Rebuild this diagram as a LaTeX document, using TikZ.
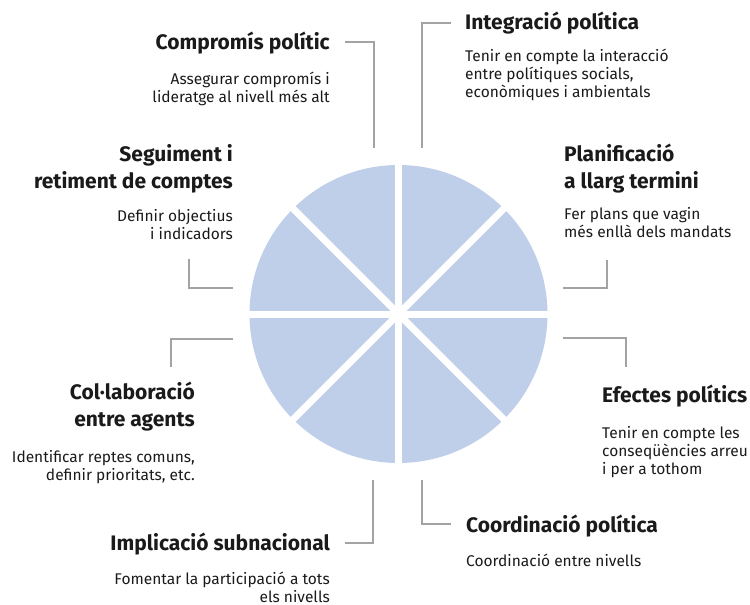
\documentclass[tikz,border=0pt]{standalone}
\usepackage{fontspec}
\setmainfont{Fira Sans}
\usetikzlibrary{calc}
\definecolor{piefill}{HTML}{BFCFEA}
\definecolor{connc}{HTML}{A3A3A3}
\definecolor{txtc}{HTML}{1A1A1A}
\tikzset{
  ttl/.style={font=\bfseries\fontsize{21}{26.5}\selectfont, text=txtc, inner sep=0pt},
  bdy/.style={font=\fontsize{15.5}{17.8}\selectfont, text=txtc, inner sep=0pt},
  lt/.style={anchor=base east, align=right},
  rt/.style={anchor=base west, align=left},
  connector/.style={draw=connc, line width=2.2pt},
  gap/.style={draw=white, line width=7pt},
}
\begin{document}
\begin{tikzpicture}[x=1pt,y=-1pt]
\useasboundingbox (0,0) rectangle (750,605);
% pie
\coordinate (ctr) at (398.5,314);
\fill[piefill] (ctr) circle[radius=149pt];
\foreach \a in {0,45,90,135}{
  \draw[gap] ($(ctr)+(\a:-155pt)$) -- ($(ctr)+(\a:155pt)$);
}
% texts left (anchor = baseline of last line)
\node[ttl,lt] (compT) at (330,49) {Compromís polític};
\node[bdy,lt] (compB) at (330,102) {Assegurar compromís i\\lideratge al nivell més alt};
\node[ttl,lt] (segT) at (233,188) {Seguiment i\\retiment de comptes};
\node[bdy,lt] (segB) at (233,239) {Definir objectius\\i indicadors};
\node[ttl,lt] (colT) at (195,426) {Col·laboració\\entre agents};
\node[bdy,lt] (colB) at (195,480) {Identificar reptes comuns,\\definir prioritats, etc.};
\node[ttl,lt] (impT) at (330,550) {Implicació subnacional};
\node[bdy,lt] (impB) at (330,602) {Fomentar la participació a tots\\els nivells};
% texts right
\node[ttl,rt] (intT) at (465,29) {Integració política};
\node[bdy,rt] (intB) at (465,97) {Tenir en compte la interacció\\entre polítiques socials,\\econòmiques i ambientals};
\node[ttl,rt] (plaT) at (564,188) {Planificació\\a llarg termini};
\node[bdy,rt] (plaB) at (564,237) {Fer plans que vagin\\més enllà dels mandats};
\node[ttl,rt] (efeT) at (602,402) {Efectes polítics};
\node[bdy,rt] (efeB) at (602,474) {Tenir en compte les\\conseqüències arreu\\i per a tothom};
\node[ttl,rt] (cooT) at (466,532) {Coordinació política};
\node[bdy,rt] (cooB) at (466,566) {Coordinació entre nivells};
% connector endpoints
\coordinate (k1a) at (345,42);  \coordinate (k1b) at (374,148);
\coordinate (k2a) at (451,23);  \coordinate (k2b) at (422,148);
\coordinate (k3a) at (189,259); \coordinate (k3b) at (233,288);
\coordinate (k4a) at (233,339); \coordinate (k4b) at (171,367);
\coordinate (k5a) at (607,260); \coordinate (k5b) at (563,288);
\coordinate (k6a) at (563,338); \coordinate (k6b) at (626,367);
\coordinate (k7a) at (373,480); \coordinate (k7b) at (345,543);
\coordinate (k8a) at (422,480); \coordinate (k8b) at (451,524);
\draw[connector] (k1a) -| (k1b);
\draw[connector] (k2a) -| (k2b);
\draw[connector] (k3a) |- (k3b);
\draw[connector] (k4a) -| (k4b);
\draw[connector] (k5a) |- (k5b);
\draw[connector] (k6a) -| (k6b);
\draw[connector] (k7a) |- (k7b);
\draw[connector] (k8a) |- (k8b);
\end{tikzpicture}
\end{document}
